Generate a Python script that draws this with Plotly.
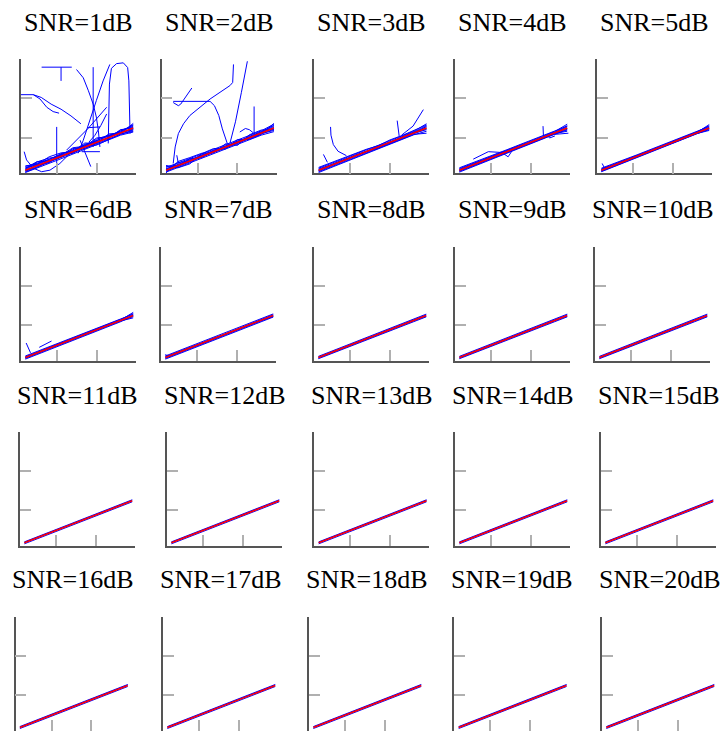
import plotly.graph_objects as go

# ---------------- data ----------------
SNR_DB = list(range(1, 21))
X_GRID = [2, 5, 8, 11, 14, 17, 20, 23, 26, 29.2]
RED_X = [2, 29.2]
RED_Y = [1.7, 12.4]
TICKS = [10, 20]

BUNDLE_1 = [
    [1.9, 3.4, 4.5, 5.6, 6.9, 8.1, 9.2, 10.3, 11.6, 12.9],
    [1.4, 2.6, 3.7, 5.0, 6.1, 7.3, 8.4, 9.6, 10.8, 11.9],
    [2.3, 3.1, 4.4, 5.9, 6.6, 7.9, 9.4, 10.5, 11.4, 13.3],
    [1.6, 3.0, 3.9, 5.1, 6.7, 7.2, 8.6, 10.1, 11.3, 12.2],
    [2.6, 3.5, 4.2, 5.4, 6.2, 8.3, 9.0, 9.8, 11.9, 12.6],
    [1.2, 2.4, 4.0, 5.3, 6.5, 7.7, 8.1, 9.5, 10.9, 11.6],
    [2.0, 3.8, 4.8, 5.0, 7.2, 7.5, 9.6, 10.6, 11.0, 13.6],
    [1.5, 2.9, 3.6, 5.7, 6.0, 7.9, 8.9, 9.9, 12.0, 12.4],
    [2.8, 3.2, 5.1, 6.1, 6.4, 8.6, 8.5, 10.9, 11.2, 12.0],
    [1.1, 2.2, 3.4, 4.6, 5.8, 7.0, 8.2, 9.3, 10.6, 11.4],
    [2.2, 3.9, 4.0, 5.5, 7.4, 7.8, 9.9, 10.2, 11.7, 13.1],
]
BUNDLE_2 = [
    [2.4, 3.5, 4.7, 5.8, 7.0, 8.2, 9.3, 10.5, 11.7, 13.4],
    [1.2, 2.4, 3.5, 4.7, 5.9, 7.0, 8.2, 9.4, 10.6, 11.5],
    [1.9, 3.2, 4.2, 5.5, 6.6, 7.9, 9.0, 10.1, 11.3, 12.9],
    [1.5, 2.7, 3.9, 5.0, 6.2, 7.4, 8.6, 9.8, 10.9, 12.1],
    [2.1, 3.0, 4.4, 5.3, 6.8, 7.6, 8.8, 10.3, 11.5, 13.1],
    [1.4, 2.6, 4.0, 5.1, 6.3, 7.3, 8.5, 9.6, 11.0, 11.8],
    [1.8, 3.6, 4.1, 5.6, 6.4, 7.8, 8.9, 9.9, 11.2, 12.6],
    [2.6, 2.9, 4.6, 4.9, 6.6, 7.5, 9.1, 10.0, 11.4, 12.3],
    [1.0, 3.9, 4.9, 6.0, 6.1, 8.4, 8.0, 10.7, 11.9, 12.0],
    [2.9, 2.3, 3.3, 5.9, 7.2, 7.1, 9.5, 9.5, 10.8, 13.6],
]
BUNDLE_3 = [
    [2.2, 3.3, 4.5, 5.7, 6.8, 8.0, 9.2, 10.4, 11.6, 13.5],
    [1.3, 2.5, 3.7, 4.8, 6.0, 7.2, 8.4, 9.6, 10.8, 11.1],
    [1.8, 3.0, 4.2, 5.3, 6.6, 7.7, 8.9, 10.0, 11.2, 12.8],
    [1.6, 2.8, 3.9, 5.2, 6.2, 7.5, 8.6, 9.8, 11.0, 12.2],
    [2.0, 3.1, 4.1, 5.5, 6.5, 7.8, 8.8, 10.2, 11.4, 13.0],
    [1.5, 2.7, 4.0, 5.0, 6.4, 7.3, 8.6, 9.8, 11.1, 12.0],
    [1.7, 2.9, 4.3, 5.2, 6.3, 7.6, 8.9, 9.9, 11.3, 12.5],
    [2.4, 3.6, 4.6, 5.9, 7.0, 7.9, 9.4, 10.5, 11.8, 13.2],
    [1.1, 2.3, 3.6, 4.6, 5.8, 7.0, 8.2, 9.4, 10.7, 11.6],
]
BUNDLE_4 = [
    [2.1, 3.2, 4.4, 5.6, 6.7, 7.9, 9.1, 10.3, 11.5, 13.4],
    [1.4, 2.6, 3.8, 4.9, 6.1, 7.3, 8.5, 9.7, 10.9, 11.9],
    [1.8, 3.0, 4.2, 5.3, 6.6, 7.7, 8.9, 10.0, 11.2, 12.7],
    [1.6, 2.8, 3.9, 5.2, 6.3, 7.5, 8.7, 9.9, 11.1, 12.3],
    [1.9, 3.1, 4.1, 5.4, 6.5, 7.8, 8.8, 10.1, 11.3, 13.0],
    [1.5, 2.7, 4.0, 5.1, 6.4, 7.4, 8.6, 9.8, 11.0, 11.6],
    [2.3, 3.4, 4.6, 5.7, 6.9, 8.1, 9.3, 10.4, 11.6, 12.9],
    [1.2, 2.4, 3.6, 4.8, 6.0, 7.1, 8.3, 9.5, 10.7, 12.1],
]
BUNDLE_5 = [
    [2.0, 3.1, 4.3, 5.5, 6.6, 7.8, 9.0, 10.2, 11.4, 13.0],
    [1.4, 2.6, 3.8, 5.0, 6.2, 7.4, 8.5, 9.8, 11.0, 12.0],
    [1.8, 3.0, 4.2, 5.2, 6.5, 7.7, 8.9, 10.0, 11.3, 12.6],
    [1.6, 2.8, 4.0, 5.3, 6.4, 7.5, 8.7, 9.9, 11.1, 12.4],
    [1.9, 2.9, 4.1, 5.4, 6.3, 7.6, 8.8, 10.1, 11.2, 13.3],
    [1.5, 2.7, 4.0, 5.1, 6.5, 7.5, 8.6, 9.9, 11.0, 11.8],
    [2.2, 3.3, 4.5, 5.6, 6.8, 8.0, 9.2, 10.3, 11.5, 12.8],
    [1.3, 2.5, 3.7, 4.9, 6.0, 7.2, 8.4, 9.6, 10.8, 12.2],
]
BUNDLE_6 = [
    [1.9, 3.1, 4.3, 5.4, 6.6, 7.8, 8.9, 10.1, 11.4, 12.9],
    [1.5, 2.7, 3.9, 5.1, 6.3, 7.4, 8.6, 9.8, 11.0, 12.1],
    [1.8, 3.0, 4.1, 5.3, 6.5, 7.7, 8.8, 10.0, 11.1, 12.5],
    [1.6, 2.9, 4.0, 5.2, 6.3, 7.6, 8.7, 9.9, 11.2, 13.2],
    [1.7, 2.8, 4.2, 5.3, 6.5, 7.6, 8.9, 10.0, 11.0, 11.8],
    [2.1, 3.3, 4.4, 5.6, 6.8, 7.9, 9.1, 10.3, 11.5, 12.7],
    [1.3, 2.5, 3.7, 4.9, 6.1, 7.3, 8.5, 9.6, 10.8, 12.3],
]
BUNDLE_7 = [
    [1.9, 3.0, 4.3, 5.4, 6.5, 7.7, 8.9, 10.1, 11.3, 12.6],
    [1.5, 2.7, 3.9, 5.1, 6.3, 7.5, 8.6, 9.8, 11.0, 12.2],
    [1.8, 3.1, 4.2, 5.3, 6.6, 7.6, 8.8, 10.0, 11.2, 12.4],
    [1.6, 2.8, 4.0, 5.2, 6.4, 7.5, 8.7, 9.9, 11.1, 12.1],
    [2.1, 3.3, 4.5, 5.6, 6.8, 7.9, 9.1, 10.3, 11.5, 12.8],
    [1.3, 2.5, 3.7, 4.9, 6.1, 7.3, 8.5, 9.6, 10.8, 12.0],
]
BUNDLE_MID = [
    [2.0, 3.20, 4.4, 5.55, 6.75, 7.95, 9.10, 10.3, 11.5, 12.75],
    [1.4, 2.60, 3.8, 4.95, 6.10, 7.30, 8.45, 9.65, 10.8, 12.05],
    [1.8, 3.00, 4.2, 5.35, 6.55, 7.70, 8.90, 10.1, 11.3, 12.55],
    [1.55, 2.75, 3.95, 5.1, 6.30, 7.45, 8.65, 9.8, 11.0, 12.2],
]
BUNDLE_HI = [
    [1.95, 3.15, 4.33, 5.50, 6.68, 7.86, 9.04, 10.22, 11.40, 12.66],
    [1.45, 2.63, 3.80, 4.98, 6.16, 7.34, 8.52, 9.70, 10.88, 12.14],
    [1.80, 2.98, 4.16, 5.34, 6.52, 7.70, 8.88, 10.06, 11.24, 12.50],
]

# stray trajectories (x list, y list)
OUTLIERS_1 = [
    ([6.1, 13.7], [27.9, 27.9]),
    ([11.0, 11.0], [27.9, 24.4]),
    ([0.9, 4.0, 5.7, 7.4, 9.0, 10.5], [20.9, 20.9, 19.8, 17.7, 16.6, 16.2]),
    ([4.0, 6.0, 8.5, 11.0, 13.5, 16.0], [20.9, 20.2, 18.5, 17.2, 15.5, 13.5]),
    ([14.9, 16.6, 17.9, 19.1, 19.9, 20.4, 20.8], [27.3, 25.2, 21.9, 18.5, 15.2, 11.8, 7.6]),
    ([19.1, 19.1], [27.9, 7.6]),
    ([23.3, 21.6, 19.9, 18.3, 16.6, 15.3], [28.6, 24.4, 19.4, 14.3, 9.3, 6.0]),
    ([22.9, 23.2, 23.7, 25.0, 26.7, 27.8, 28.1, 28.2, 28.4], [8.5, 23.6, 27.6, 28.8, 29.0, 27.8, 24.4, 17.7, 11.0]),
    ([22.5, 21.0, 19.5, 18.0], [16.0, 13.0, 10.5, 8.8]),
    ([9.9, 9.9], [12.7, 2.6]),
    ([1.7, 2.3, 4.0, 6.1, 8.2, 10.7, 13.2], [6.4, 4.3, 2.2, 1.3, 1.7, 3.4, 5.9]),
    ([15.8, 17.4, 18.5], [9.3, 5.1, 2.6]),
    ([16.2, 20.8], [6.4, 6.4]),
    ([17.8, 20.8], [12.5, 12.7]),
    ([12.4, 15.0, 18.0, 22.5], [6.8, 9.5, 12.5, 17.7]),
]
OUTLIERS_2 = [
    ([3.8, 4.3, 5.1, 6.4, 8.0, 10.6, 13.1, 15.6, 18.1, 18.8, 19.0], [3.4, 7.6, 11.0, 13.5, 15.6, 17.7, 19.8, 21.5, 23.2, 24.0, 28.6]),
    ([3.8, 5.1, 5.7, 6.8, 8.5], [18.9, 18.1, 18.5, 20.2, 22.6]),
    ([3.8, 8.0, 13.1, 14.2, 15.3, 16.2, 17.1, 17.5], [19.2, 19.2, 19.2, 18.1, 15.6, 12.2, 9.3, 8.3]),
    ([18.1, 19.5, 21.0, 22.5], [8.5, 14.0, 21.5, 29.4]),
    ([24.2, 24.2], [17.9, 11.0]),
    ([20.6, 22.0, 23.0, 24.0], [11.4, 12.3, 12.0, 11.2]),
    ([4.7, 5.1], [5.5, 3.4]),
]
OUTLIERS_3 = [
    ([5.0, 5.1, 5.7, 6.9, 9.0], [12.7, 10.6, 8.2, 6.5, 5.4]),
    ([3.2, 4.2], [5.7, 3.7]),
    ([21.8, 22.1, 22.3], [14.3, 12.2, 10.4]),
    ([22.9, 25.8, 28.4], [10.6, 12.9, 17.1]),
]
OUTLIERS_4 = [
    ([5.5, 9.3, 12.7, 14.3, 15.4], [4.5, 6.4, 6.2, 5.1, 6.8]),
    ([23.1, 23.2], [12.9, 10.4]),
    ([24.0, 24.8, 26.1], [10.6, 9.9, 10.4]),
    ([26.0, 29.5], [10.8, 11.1]),
]
OUTLIERS_5 = [
    ([2.2, 2.8, 3.6], [3.4, 2.2, 2.6]),
]
OUTLIERS_6 = [
    ([2.2, 3.3], [5.4, 2.9]),
    ([5.5, 8.6], [4.3, 5.9]),
]
OUTLIERS_7 = [
    ([1.9, 3.2], [2.4, 2.1]),
]

BUNDLES = {1: BUNDLE_1, 2: BUNDLE_2, 3: BUNDLE_3, 4: BUNDLE_4, 5: BUNDLE_5,
           6: BUNDLE_6, 7: BUNDLE_7, 8: BUNDLE_MID, 9: BUNDLE_MID, 10: BUNDLE_MID}
OUTLIERS = {1: OUTLIERS_1, 2: OUTLIERS_2, 3: OUTLIERS_3, 4: OUTLIERS_4,
            5: OUTLIERS_5, 6: OUTLIERS_6, 7: OUTLIERS_7}

# ---------------- layout (pixels) ----------------
W, H = 724, 731
AW, AH = 115, 114
ROW_BOTTOM = [173.3, 360.7, 546.0, 730.7]
COL_LEFT = [
    [21, 161.7, 314.3, 455, 597],
    [21, 161, 314, 455, 595],
    [20, 167, 314.3, 455, 601],
    [15.5, 163, 309, 454.3, 602],
]
TITLE_GAP = 37
AX_RANGE = [0.9, 29.9]
TITLE_FONT = "Liberation Serif, Times New Roman, Times, DejaVu Serif, serif"

fig = go.Figure()
annotations = []
for i, snr in enumerate(SNR_DB):
    r, c = divmod(i, 5)
    n = i + 1
    xa = "x" if n == 1 else f"x{n}"
    ya = "y" if n == 1 else f"y{n}"
    left = COL_LEFT[r][c]
    bottom = ROW_BOTTOM[r]
    xd = [left / W, (left + AW) / W]
    yd = [max(0.0, (H - bottom) / H), (H - bottom + AH) / H]

    blue = dict(color="#0000ff", width=1)
    for ys in BUNDLES.get(snr, BUNDLE_HI):
        fig.add_trace(go.Scatter(x=X_GRID, y=ys, mode="lines", line=blue,
                                 xaxis=xa, yaxis=ya, showlegend=False, hoverinfo="skip"))
    for xs, ys in OUTLIERS.get(snr, []):
        fig.add_trace(go.Scatter(x=xs, y=ys, mode="lines", line=blue,
                                 xaxis=xa, yaxis=ya, showlegend=False, hoverinfo="skip"))
    fig.add_trace(go.Scatter(x=RED_X, y=RED_Y, mode="lines",
                             line=dict(color="#ff0000", width=1.6),
                             xaxis=xa, yaxis=ya, showlegend=False, hoverinfo="skip"))

    common = dict(range=AX_RANGE, showline=True, linecolor="#555555", linewidth=1.5,
                  ticks="inside", ticklen=11, tickwidth=1.5, tickcolor="#b0b0b0",
                  tickvals=TICKS, showticklabels=False, showgrid=False, zeroline=False,
                  fixedrange=True)
    fig.layout[("xaxis" if n == 1 else f"xaxis{n}")] = dict(domain=xd, anchor=ya, **common)
    fig.layout[("yaxis" if n == 1 else f"yaxis{n}")] = dict(domain=yd, anchor=xa, **common)

    annotations.append(dict(text=f"SNR={snr}dB", xref="paper", yref="paper",
                            x=(left + AW / 2) / W,
                            y=(H - bottom + AH + TITLE_GAP) / H,
                            xanchor="center", yanchor="middle", showarrow=False,
                            font=dict(family=TITLE_FONT, size=26, color="black")))

fig.update_layout(width=W, height=H, margin=dict(l=0, r=0, t=0, b=0),
                  paper_bgcolor="white", plot_bgcolor="white",
                  annotations=annotations, showlegend=False)
fig.write_html("out.html")
